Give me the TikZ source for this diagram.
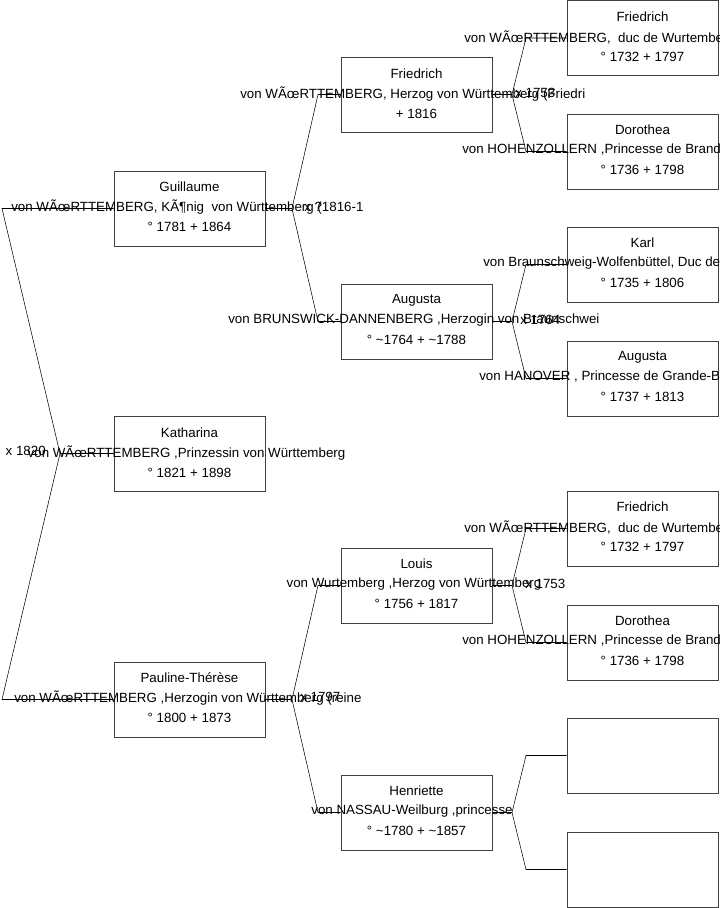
\documentclass[tikz,border=0pt]{standalone}
\usepackage{fontspec}
\setmainfont{Liberation Sans}
\tikzset{
  pbox/.style={draw={rgb, 255:red, 64; green, 64; blue, 64 }, minimum width=113.25pt, minimum height=56.25pt, inner sep=0pt},
  ptext/.style={inner sep=0pt, font=\fontsize{10}{12}\selectfont},
  wtext/.style={ptext, anchor=west}
}
\begin{document}
\begin{tikzpicture}[x=0.75pt,y=0.75pt,yscale=-1,xscale=1]
\useasboundingbox (0,0) rectangle (719,908);
\clip (0,0) rectangle (719,908);

%Shape: Rectangle, generation 1
\node [pbox] (guil) at (189.5,208.5) {};
\node [pbox] (kath) at (189.5,453.5) {};
\node [pbox] (paul) at (189.5,699.5) {};
%Shape: Rectangle, generation 2
\node [pbox] (frie) at (416.5,94.5) {};
\node [pbox] (augu) at (416.5,321.5) {};
\node [pbox] (loui) at (416.5,585.5) {};
\node [pbox] (henr) at (416.5,812.5) {};
%Shape: Rectangle, generation 3
\node [pbox] (fri3) at (642.5,38) {};
\node [pbox] (dor3) at (642.5,151.5) {};
\node [pbox] (karl) at (642.5,264.5) {};
\node [pbox] (aug3) at (642.5,378.5) {};
\node [pbox] (fri4) at (642.5,528.5) {};
\node [pbox] (dor4) at (642.5,642.5) {};
\node [pbox] (emp1) at (642.5,755.5) {};
\node [pbox] (emp2) at (642.5,869.5) {};

%Straight Lines, fork of Katharina
\coordinate (m1) at (60,453.5);
\coordinate (m1a) at (2,208.5);
\coordinate (m1b) at (2,699.5);
\draw (kath.west) -- (m1) -- (m1a) -- (guil.west);
\draw (m1) -- (m1b) -- (paul.west);
%Straight Lines, fork of Guillaume
\coordinate (f1) at (292,208.5);
\coordinate (f1a) at (318,94.5);
\coordinate (f1b) at (318,321.5);
\draw (guil.east) -- (f1) -- (f1a) -- (frie.west);
\draw (f1) -- (f1b) -- (augu.west);
%Straight Lines, fork of Pauline
\coordinate (f2) at (292,699.5);
\coordinate (f2a) at (318,585.5);
\coordinate (f2b) at (318,812.5);
\draw (paul.east) -- (f2) -- (f2a) -- (loui.west);
\draw (f2) -- (f2b) -- (henr.west);
%Straight Lines, fork of Friedrich
\coordinate (g1) at (512,94.5);
\coordinate (g1a) at (526,38);
\coordinate (g1b) at (526,151.5);
\draw (frie.east) -- (g1) -- (g1a) -- (fri3.west);
\draw (g1) -- (g1b) -- (dor3.west);
%Straight Lines, fork of Augusta
\coordinate (g2) at (512,321.5);
\coordinate (g2a) at (526,264.5);
\coordinate (g2b) at (526,378.5);
\draw (augu.east) -- (g2) -- (g2a) -- (karl.west);
\draw (g2) -- (g2b) -- (aug3.west);
%Straight Lines, fork of Louis
\coordinate (g3) at (512,585.5);
\coordinate (g3a) at (526,528.5);
\coordinate (g3b) at (526,642.5);
\draw (loui.east) -- (g3) -- (g3a) -- (fri4.west);
\draw (g3) -- (g3b) -- (dor4.west);
%Straight Lines, fork of Henriette
\coordinate (g4) at (512,812.5);
\coordinate (g4a) at (526,755.5);
\coordinate (g4b) at (526,869.5);
\draw (henr.east) -- (g4) -- (g4a) -- (emp1.west);
\draw (g4) -- (g4b) -- (emp2.west);

% Text Node
\node [ptext] (guilN) at (189.5,187) {Guillaume};
\node [wtext] (guilT) at (11,207) {von WÃœRTTEMBERG, KÃ¶nig\ \ von Württemberg (1816-1};
\node [ptext] (guilD) at (189.5,227) {° 1781 + 1864};
% Text Node
\node [ptext] (kathN) at (189.5,433) {Katharina};
\node [ptext] (kathT) at (186.5,453) {von WÃœRTTEMBERG ,Prinzessin von Württemberg};
\node [ptext] (kathD) at (189.5,473) {° 1821 + 1898};
% Text Node
\node [ptext] (paulN) at (189.5,678) {Pauline-Thérèse};
\node [wtext] (paulT) at (14,698) {von WÃœRTTEMBERG ,Herzogin von Württemberg (reine};
\node [ptext] (paulD) at (189.5,718) {° 1800 + 1873};
% Text Node
\node [ptext] (frieN) at (416.5,74) {Friedrich};
\node [wtext] (frieT) at (240,94) {von WÃœRTTEMBERG, Herzog von Württemberg (Friedri};
\node [ptext] (frieD) at (416.5,114) {+ 1816};
% Text Node
\node [ptext] (auguN) at (416.5,300) {Augusta};
\node [wtext] (auguT) at (228,320) {von BRUNSWICK-DANNENBERG ,Herzogin von Braunschwei};
\node [ptext] (auguD) at (416.5,340) {° \textasciitilde1764 + \textasciitilde1788};
% Text Node
\node [ptext] (louiN) at (416.5,564) {Louis};
\node [ptext] (louiT) at (414,584) {von Wurtemberg ,Herzog von Württemberg};
\node [ptext] (louiD) at (416.5,604) {° 1756 + 1817};
% Text Node
\node [ptext] (henrN) at (416.5,791) {Henriette};
\node [ptext] (henrT) at (412,811) {von NASSAU-Weilburg ,princesse};
\node [ptext] (henrD) at (416.5,831) {° \textasciitilde1780 + \textasciitilde1857};
% Text Node
\node [ptext] (fri3N) at (642.5,17) {Friedrich};
\node [wtext] (fri3T) at (464,37) {von WÃœRTTEMBERG,\ \ duc de Wurtembe};
\node [ptext] (fri3D) at (642.5,57) {° 1732 + 1797};
% Text Node
\node [ptext] (dor3N) at (642.5,130) {Dorothea};
\node [wtext] (dor3T) at (462,150) {von HOHENZOLLERN ,Princesse de Brand};
\node [ptext] (dor3D) at (642.5,170) {° 1736 + 1798};
% Text Node
\node [ptext] (karlN) at (642.5,243) {Karl};
\node [wtext] (karlT) at (483,263) {von Braunschweig-Wolfenbüttel, Duc de};
\node [ptext] (karlD) at (642.5,283) {° 1735 + 1806};
% Text Node
\node [ptext] (aug3N) at (642.5,357) {Augusta};
\node [wtext] (aug3T) at (479,377) {von HANOVER , Princesse de Grande-B};
\node [ptext] (aug3D) at (642.5,397) {° 1737 + 1813};
% Text Node
\node [ptext] (fri4N) at (642.5,507) {Friedrich};
\node [wtext] (fri4T) at (464,527) {von WÃœRTTEMBERG,\ \ duc de Wurtembe};
\node [ptext] (fri4D) at (642.5,547) {° 1732 + 1797};
% Text Node
\node [ptext] (dor4N) at (642.5,621) {Dorothea};
\node [wtext] (dor4T) at (462,641) {von HOHENZOLLERN ,Princesse de Brand};
\node [ptext] (dor4D) at (642.5,661) {° 1736 + 1798};

% Text Node, marriages
\node [ptext, anchor=east] (mar1) at (46,451) {x 1820};
\node [wtext] (mar2) at (304,207) {x ?};
\node [wtext] (mar3) at (300,697) {x 1797};
\node [wtext] (mar4) at (515,93) {x 1753};
\node [wtext] (mar5) at (520,320) {x 1764};
\node [wtext] (mar6) at (525,584) {x 1753};

\end{tikzpicture}
\end{document}
